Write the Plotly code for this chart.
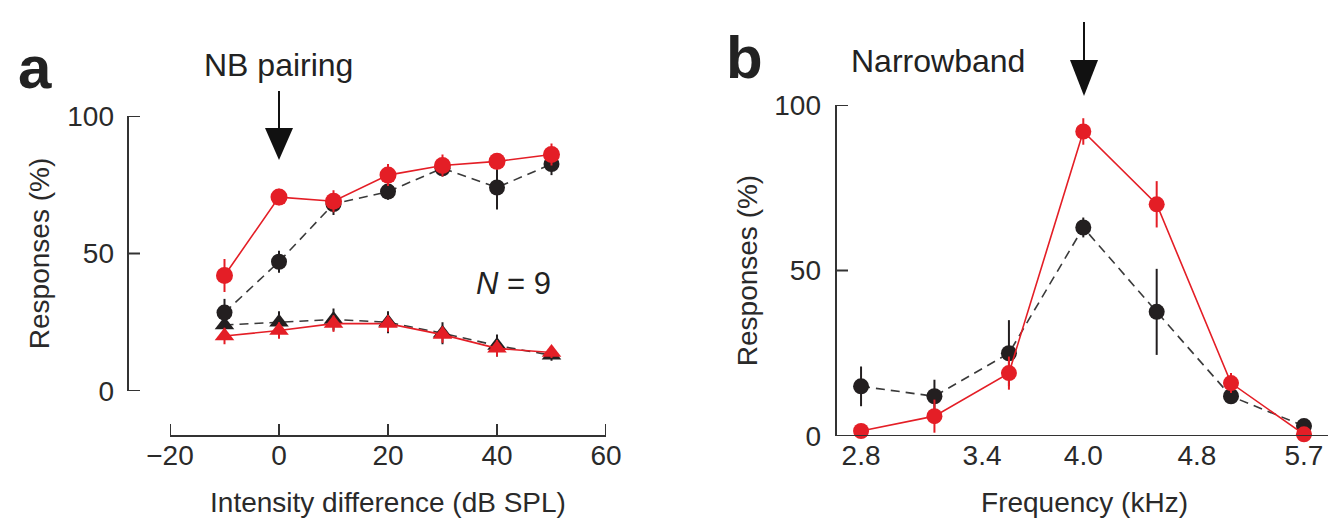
import math
import plotly.graph_objects as go

W, H = 1336, 519

# ---------------- data ----------------
# Panel a
intensity = [-10, 0, 10, 20, 30, 40, 50]
a_black_circ = [28.5, 47, 68, 72.5, 81, 74, 82.5]
a_black_circ_err = [5, 4, 4, 3, 3, 8, 4]
a_red_circ = [42, 70.5, 69, 78.5, 82, 83.5, 86]
a_red_circ_err = [6, 3, 4, 4, 4, 3, 4]
a_black_tri = [24, 25, 26, 25, 21, 16.5, 13]
a_black_tri_err = [3, 4, 4, 4, 4, 4, 2]
a_red_tri = [20, 22, 24.5, 24.5, 20.5, 15.5, 14]
a_red_tri_err = [3, 3, 3, 3, 3, 3, 2]
a_xticks = [-20, 0, 20, 40, 60]
a_xticklabels = ["\u221220", "0", "20", "40", "60"]

# Panel b
freq = [2.8, 3.15, 3.55, 4.0, 4.5, 5.07, 5.7]
b_black = [15, 12, 25, 63, 37.5, 12, 3]
b_black_err = [6, 5, 10, 3, 13, 2, 2]
b_red = [1.5, 6, 19, 92, 70, 16, 0.5]
b_red_err = [2, 5, 5, 4, 7, 3, 1]
b_xticks = [2.8, 3.4, 4.0, 4.8, 5.7]
b_xticklabels = ["2.8", "3.4", "4.0", "4.8", "5.7"]
y_ticks = [0, 50, 100]

RED = "#e41e26"
BLK = "#231f20"
AX = "#333333"
FONT = "Liberation Sans, Arial, sans-serif"

# layout geometry (pixels)
A_YAX_X = 120
A_XAX_Y = 428
A_X0, A_X1 = 162, 598
A_Y0, A_Y1 = 383, 108
B_X0, B_X1 = 828, 1325
B_Y0, B_Y1 = 428, 97
TICK = 12


def px(x):
    return x / W


def py(y):
    return 1 - y / H


fig = go.Figure()


def add(x, y, err, color, symbol, size, dashed, xa, ya):
    fig.add_trace(go.Scatter(
        x=x, y=y, xaxis=xa, yaxis=ya, mode="lines+markers",
        line=dict(color="#3a3a3a" if dashed else color, width=1.6,
                  dash="9px,6px" if dashed else "solid"),
        marker=dict(color=color, symbol=symbol, size=size, line=dict(width=0)),
        error_y=dict(type="data", array=err, color=color, thickness=2, width=0),
        cliponaxis=False, showlegend=False, hoverinfo="x+y"))


# panel a: black (before pairing) under red (after pairing)
add(intensity, a_black_tri, a_black_tri_err, BLK, "triangle-up", 17, True, "x", "y")
add(intensity, a_black_circ, a_black_circ_err, BLK, "circle", 16, True, "x", "y")
add(intensity, a_red_tri, a_red_tri_err, RED, "triangle-up", 17, False, "x", "y")
add(intensity, a_red_circ, a_red_circ_err, RED, "circle", 17, False, "x", "y")
# panel b
add(freq, b_black, b_black_err, BLK, "circle", 16, True, "x2", "y2")
add(freq, b_red, b_red_err, RED, "circle", 16, False, "x2", "y2")

tickfont = dict(family=FONT, size=28, color="#2a2a2a")
titlefont = dict(family=FONT, size=28, color="#2a2a2a")
common = dict(showline=False, ticks="", showgrid=False,
              zeroline=False, tickfont=tickfont, fixedrange=True,
              automargin=False)

fig.update_layout(
    template="none",
    width=W, height=H,
    margin=dict(l=0, r=0, t=0, b=0, pad=0),
    paper_bgcolor="white", plot_bgcolor="rgba(0,0,0,0)",
    font=dict(family=FONT),
    xaxis=dict(domain=[px(A_X0), px(A_X1)], range=[-20, 60], anchor="free",
               position=py(A_XAX_Y), tickvals=a_xticks, ticktext=a_xticklabels,
               ticklabelstandoff=0,
               title=dict(text="Intensity difference (dB SPL)", font=titlefont, standoff=22),
               **common),
    yaxis=dict(domain=[py(A_Y0), py(A_Y1)], range=[0, 100], anchor="free",
               position=px(A_YAX_X), tickvals=y_ticks, ticklabelstandoff=14,
               title=dict(text="Responses (%)", font=titlefont, standoff=8),
               **common),
    xaxis2=dict(domain=[px(B_X0), px(B_X1)], type="log",
                range=[0.4297, 0.7761], anchor="y2", tickvals=b_xticks,
                ticktext=b_xticklabels, ticklabelstandoff=0,
                title=dict(text="Frequency (kHz)", font=titlefont, standoff=22),
                **common),
    yaxis2=dict(domain=[py(B_Y0), py(B_Y1)], range=[0, 100], anchor="x2",
                tickvals=y_ticks, ticklabelstandoff=14,
                title=dict(text="Responses (%)", font=titlefont, standoff=8),
                **common),
)

axline = dict(color=AX, width=2)


def seg(xref, yref, x0, x1, y0, y1):
    fig.add_shape(type="line", xref=xref, yref=yref, x0=x0, x1=x1, y0=y0, y1=y1,
                  line=axline, layer="above")


# panel a axes (detached y axis and x axis)
seg("paper", "y", px(A_YAX_X), px(A_YAX_X), 0, 100)
for v in y_ticks:
    seg("paper", "y", px(A_YAX_X), px(A_YAX_X + TICK), v, v)
seg("x", "paper", -20, 60, py(A_XAX_Y), py(A_XAX_Y))
for v in a_xticks:
    seg("x", "paper", v, v, py(A_XAX_Y), py(A_XAX_Y - TICK))

# panel b axes (joined at the corner)
seg("x2 domain", "y2", 0, 0, 0, 100)
for v in y_ticks:
    seg("x2 domain", "y2", 0, TICK / (B_X1 - B_X0), v, v)
seg("x2 domain", "y2", 0, 1, 0, 0)
for v in b_xticks:
    seg("x2", "y2 domain", math.log10(v), math.log10(v), 0, TICK / (B_Y0 - B_Y1))


def text(x, y, s, size=32):
    fig.add_annotation(xref="paper", yref="paper", x=px(x), y=py(y), text=s,
                       showarrow=False, xanchor="center", yanchor="middle",
                       font=dict(family=FONT, size=size, color="#222"))


fig.add_annotation(xref="paper", yref="paper", x=px(8), y=py(60), text="<b>a</b>",
                   showarrow=False, xanchor="left", yanchor="middle",
                   font=dict(family=FONT, size=60, color="#222"))
fig.add_annotation(xref="paper", yref="paper", x=px(716), y=py(50), text="<b>b</b>",
                   showarrow=False, xanchor="left", yanchor="middle",
                   font=dict(family=FONT, size=60, color="#222"))
text(270, 57, "NB pairing")
text(930, 53, "Narrowband")
text(505, 275, "<i>N</i> = 9", size=31)


# arrows (stem + filled head)
def arrow(x, top, head_top, tip, half=14):
    fig.add_shape(type="line", xref="paper", yref="paper",
                  x0=px(x), x1=px(x), y0=py(top), y1=py(head_top + 2),
                  line=dict(color="#111", width=2))
    fig.add_shape(type="path", xref="paper", yref="paper",
                  path=f"M {px(x-half)},{py(head_top)} L {px(x+half)},{py(head_top)} L {px(x)},{py(tip)} Z",
                  fillcolor="#111", line=dict(width=0))


arrow(271, 83, 120, 152)
arrow(1076, 14, 52, 88)

fig.write_html("out.html")
